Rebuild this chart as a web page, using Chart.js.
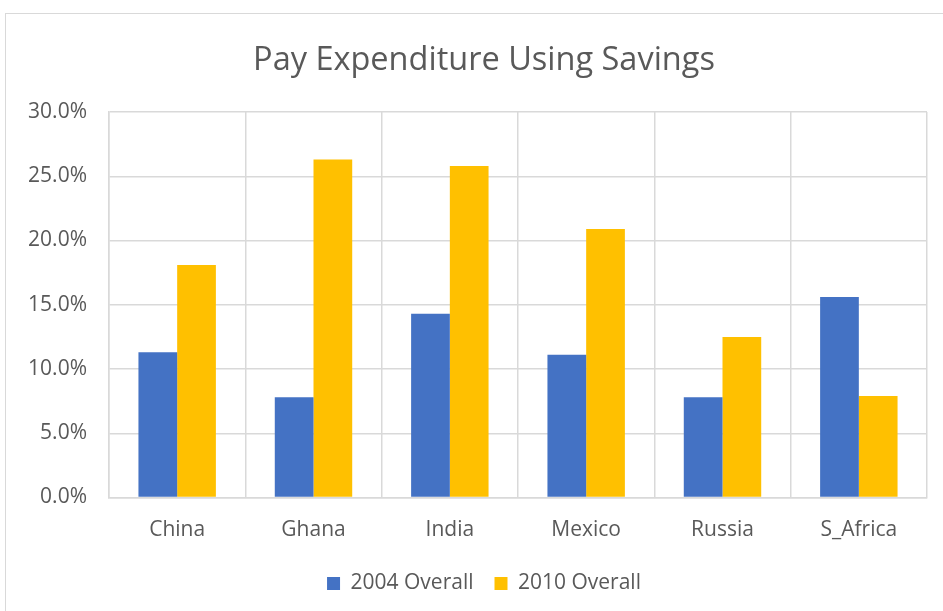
<!DOCTYPE html>
<html>
<head>
<meta charset="utf-8">
<script src="https://cdn.jsdelivr.net/npm/chart.js@4"></script>
<style>
  html, body { margin:0; padding:0; background:#fff; overflow:hidden; }
  #wrap { position:relative; width:943px; height:611px; overflow:hidden; }
  #frame { position:absolute; left:5px; top:13px; width:980px; height:640px; border:1px solid #d9d9d9; }
  canvas { position:absolute; left:0; top:0; }
</style>
</head>
<body>
<div id="wrap">
  <div id="frame"></div>
  <canvas id="chart" width="968" height="611"></canvas>
</div>
<script>
const countries = ['China', 'Ghana', 'India', 'Mexico', 'Russia', 'S_Africa'];
const overall2004 = [11.3, 7.8, 14.3, 11.1, 7.8, 15.6];
const overall2010 = [18.1, 26.3, 25.8, 20.9, 12.5, 7.9];
const seriesNames = ['2004 Overall', '2010 Overall'];

const FONT = "'Open Sans', sans-serif";
const TXT = '#595959';
const GRID = '#d9d9d9';

const ctx = document.getElementById('chart').getContext('2d');
new Chart(ctx, {
  type: 'bar',
  data: {
    labels: countries,
    datasets: [
      { label: seriesNames[0], data: overall2004, backgroundColor: '#4472C4' },
      { label: seriesNames[1], data: overall2010, backgroundColor: '#FFC000' }
    ]
  },
  options: {
    responsive: false,
    animation: false,
    devicePixelRatio: 1,
    layout: { padding: { left: 0, right: 0, top: 0, bottom: 7 } },
    datasets: { bar: { categoryPercentage: 0.568, barPercentage: 1 } },
    plugins: {
      tooltip: { enabled: false },
      title: {
        display: true,
        text: 'Pay Expenditure Using Savings',
        color: TXT,
        font: { family: FONT, size: 32.5, weight: 'normal' },
        padding: { top: 41, bottom: 32 }
      },
      legend: {
        position: 'bottom',
        labels: {
          color: TXT,
          font: { family: FONT, size: 21 },
          boxWidth: 13, boxHeight: 13,
          padding: 21
        }
      }
    },
    scales: {
      x: {
        grid: { color: GRID, lineWidth: 1.5, offset: true, drawTicks: false },
        border: { color: GRID, width: 1.5 },
        afterFit: s => { s.height = 54.5; },
        ticks: { color: TXT, font: { family: FONT, size: 21 }, padding: 20 }
      },
      y: {
        min: 0, max: 30,
        grid: { color: GRID, lineWidth: 1.5, drawTicks: false },
        border: { color: GRID, width: 1.5 },
        afterFit: s => { s.width = 109; },
        ticks: {
          stepSize: 5,
          color: TXT,
          padding: 22,
          font: { family: FONT, size: 21 },
          callback: v => v.toFixed(1) + '%'
        }
      },
      yRight: {
        position: 'right',
        min: 0, max: 30,
        grid: { display: false },
        border: { display: false },
        ticks: { display: false },
        afterFit: s => { s.width = 41; }
      }
    }
  }
});
</script>
</body>
</html>
